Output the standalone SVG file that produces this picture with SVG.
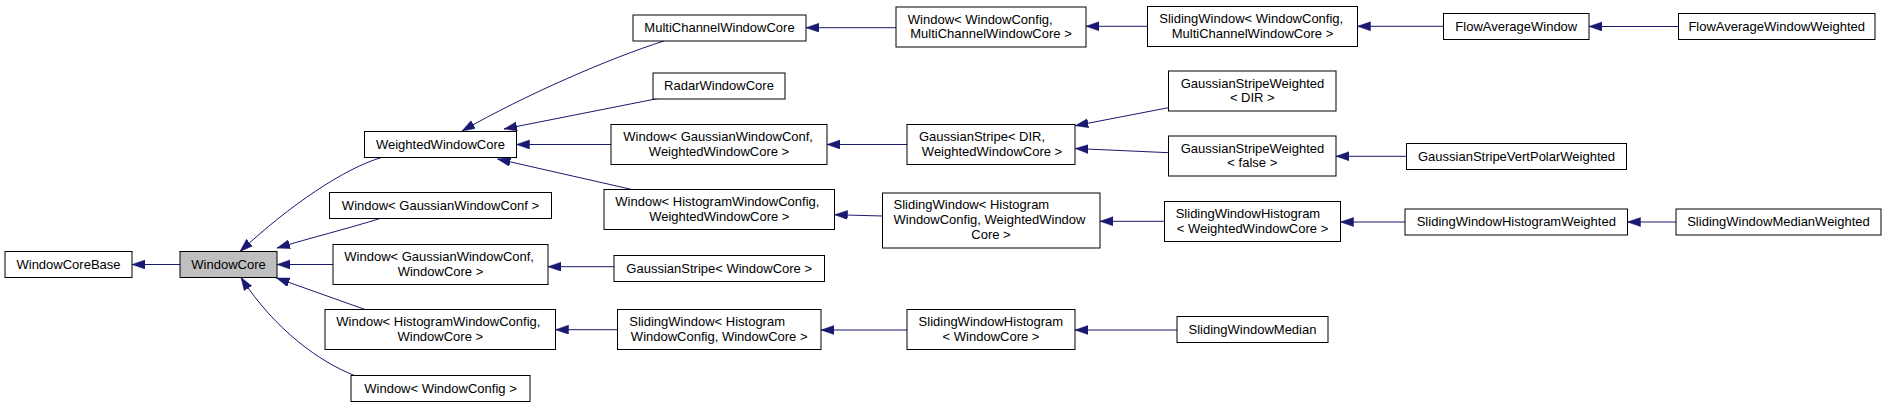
<svg xmlns="http://www.w3.org/2000/svg" width="1887" height="407" viewBox="0 0 1887 407">
<style>
.node rect{fill:#ffffff;stroke:#000000;stroke-width:1}
.node.cur rect{fill:#bfbfbf}
text{font-family:"Liberation Sans",Arial,Helvetica,sans-serif;font-size:13px;fill:#000000}
.c{text-anchor:middle}
.s{text-anchor:start}
.edges path{fill:none;stroke:#191970;stroke-width:1;marker-end:url(#arr)}
</style>
<defs>
<marker id="arr" markerUnits="userSpaceOnUse" markerWidth="14" markerHeight="10" refX="13" refY="4.5" orient="auto">
<path d="M0,0 L13,4.5 L0,9 z" fill="#191970" stroke="#191970" stroke-width="0.5"/>
</marker>
</defs>
<rect x="0" y="0" width="1887" height="407" fill="#ffffff"/>
<g class="edges">
<path d="M180,264.5 L132,264.5"/>
<path d="M381.5,157.5 C345,168 290,205 240,251.5"/>
<path d="M380,218.5 C350,228 310,238 277,248"/>
<path d="M333,264.5 L277,264.5"/>
<path d="M365,309.5 L276.5,278"/>
<path d="M354.5,375.5 C320,362 275,330 241,277.5"/>
<path d="M664,41 C610,58 525,95 462,131"/>
<path d="M658,98.5 L504,129"/>
<path d="M611,144.5 L516.5,144.5"/>
<path d="M632,189.5 L497.5,159"/>
<path d="M896,27.7 L806,27.7"/>
<path d="M1147.5,26.3 L1086,26.3"/>
<path d="M1443.5,26.3 L1357.5,26.3"/>
<path d="M1678.5,26.5 L1589,26.5"/>
<path d="M907,144.5 L827,144.5"/>
<path d="M1168.5,107.7 L1075.3,125.7"/>
<path d="M1168.5,152.7 L1075.3,148.5"/>
<path d="M1406.5,156.3 L1336,156.3"/>
<path d="M882.5,216 L834.6,214.7"/>
<path d="M1164.5,221.3 L1100,221.3"/>
<path d="M1405,222 L1340.5,222"/>
<path d="M1676,222 L1627.5,222"/>
<path d="M614,266.7 L548,266.7"/>
<path d="M617.5,329.7 L555.5,329.7"/>
<path d="M907,330 L821,330"/>
<path d="M1177,330 L1075,330"/>
</g>
<g id="n_WindowCoreBase" class="node"><rect x="5" y="251.5" width="127" height="26"/><text class="c" x="68.5" y="268.5">WindowCoreBase</text></g>
<g id="n_WindowCore" class="node cur"><rect x="180" y="251.5" width="97" height="26"/><text class="c" x="228.5" y="268.5">WindowCore</text></g>
<g id="n_WeightedWindowCore" class="node"><rect x="364.5" y="131.5" width="152" height="26"/><text class="c" x="440.5" y="148.5">WeightedWindowCore</text></g>
<g id="n_WindowGaussian" class="node"><rect x="329.5" y="192.5" width="222" height="26"/><text class="c" x="440.5" y="209.5">Window&lt; GaussianWindowConf &gt;</text></g>
<g id="n_WindowGaussianCore" class="node"><rect x="333" y="244.5" width="215" height="40"/><text class="s" x="344.3" y="261">Window&lt; GaussianWindowConf,</text><text class="c" x="440.5" y="275.6">WindowCore &gt;</text></g>
<g id="n_WindowHistogramCore" class="node"><rect x="325" y="309.5" width="230.5" height="40"/><text class="s" x="336.3" y="326">Window&lt; HistogramWindowConfig,</text><text class="c" x="440.3" y="340.6">WindowCore &gt;</text></g>
<g id="n_WindowWindowConfig" class="node"><rect x="351" y="375.5" width="179" height="26"/><text class="c" x="440.5" y="392.5">Window&lt; WindowConfig &gt;</text></g>
<g id="n_MultiChannelWindowCore" class="node"><rect x="633" y="15" width="173" height="26"/><text class="c" x="719.5" y="32">MultiChannelWindowCore</text></g>
<g id="n_RadarWindowCore" class="node"><rect x="653" y="73" width="132" height="26"/><text class="c" x="719" y="90">RadarWindowCore</text></g>
<g id="n_WindowGaussianWeighted" class="node"><rect x="611" y="124.5" width="216" height="40"/><text class="s" x="623.3" y="141">Window&lt; GaussianWindowConf,</text><text class="c" x="719" y="155.6">WeightedWindowCore &gt;</text></g>
<g id="n_WindowHistogramWeighted" class="node"><rect x="604" y="189.5" width="230.5" height="40"/><text class="s" x="615.3" y="206">Window&lt; HistogramWindowConfig,</text><text class="c" x="719.3" y="220.6">WeightedWindowCore &gt;</text></g>
<g id="n_GaussianStripeCore" class="node"><rect x="614" y="255.5" width="210.5" height="26"/><text class="c" x="719.2" y="272.5">GaussianStripe&lt; WindowCore &gt;</text></g>
<g id="n_SlidingWindowHistogramCore" class="node"><rect x="617.5" y="309.5" width="203.5" height="40"/><text class="s" x="629.3" y="326">SlidingWindow&lt; Histogram</text><text class="c" x="719.2" y="340.6">WindowConfig, WindowCore &gt;</text></g>
<g id="n_WindowConfigMulti" class="node"><rect x="896" y="7" width="190" height="40"/><text class="s" x="907.8" y="23.5">Window&lt; WindowConfig,</text><text class="c" x="991" y="38.1">MultiChannelWindowCore &gt;</text></g>
<g id="n_GaussianStripeDIR" class="node"><rect x="907" y="124.5" width="168" height="40"/><text class="s" x="919" y="141">GaussianStripe&lt; DIR,</text><text class="c" x="992" y="155.6">WeightedWindowCore &gt;</text></g>
<g id="n_SlidingWindowHistogramWeighted3" class="node"><rect x="882.5" y="193" width="217.5" height="55"/><text class="s" x="893.5" y="209.3">SlidingWindow&lt; Histogram</text><text class="s" x="893.5" y="223.9">WindowConfig, WeightedWindow</text><text class="c" x="991" y="238.5">Core &gt;</text></g>
<g id="n_SWHistogramCore" class="node"><rect x="907" y="309.5" width="168" height="40"/><text class="s" x="918.6" y="326">SlidingWindowHistogram</text><text class="c" x="991" y="340.6">&lt; WindowCore &gt;</text></g>
<g id="n_SlidingWindowMulti" class="node"><rect x="1147.5" y="6.5" width="210" height="40"/><text class="s" x="1159.3" y="23">SlidingWindow&lt; WindowConfig,</text><text class="c" x="1252.5" y="37.6">MultiChannelWindowCore &gt;</text></g>
<g id="n_GSWDIR" class="node"><rect x="1168.5" y="71" width="167.5" height="40"/><text class="s" x="1180.7" y="87.7">GaussianStripeWeighted</text><text class="c" x="1252.3" y="102.3">&lt; DIR &gt;</text></g>
<g id="n_GSWfalse" class="node"><rect x="1168.5" y="136" width="167.5" height="40"/><text class="s" x="1180.7" y="152.7">GaussianStripeWeighted</text><text class="c" x="1252.3" y="167.3">&lt; false &gt;</text></g>
<g id="n_SWHWeightedCore" class="node"><rect x="1164.5" y="201.5" width="176" height="40"/><text class="s" x="1175.7" y="218.2">SlidingWindowHistogram</text><text class="c" x="1252.5" y="232.8">&lt; WeightedWindowCore &gt;</text></g>
<g id="n_SlidingWindowMedian" class="node"><rect x="1177" y="316.5" width="151" height="26"/><text class="c" x="1252.5" y="333.5">SlidingWindowMedian</text></g>
<g id="n_FlowAverageWindow" class="node"><rect x="1443.5" y="13.5" width="145.5" height="26"/><text class="c" x="1516.3" y="30.5">FlowAverageWindow</text></g>
<g id="n_GaussianStripeVertPolarWeighted" class="node"><rect x="1406.5" y="143.5" width="220" height="26"/><text class="c" x="1516.5" y="160.5">GaussianStripeVertPolarWeighted</text></g>
<g id="n_SlidingWindowHistogramWeighted" class="node"><rect x="1405" y="209" width="222.5" height="26"/><text class="c" x="1516.3" y="226">SlidingWindowHistogramWeighted</text></g>
<g id="n_FlowAverageWindowWeighted" class="node"><rect x="1678.5" y="13.5" width="196.5" height="26"/><text class="c" x="1776.7" y="30.5">FlowAverageWindowWeighted</text></g>
<g id="n_SlidingWindowMedianWeighted" class="node"><rect x="1676" y="209" width="205" height="26"/><text class="c" x="1778.5" y="226">SlidingWindowMedianWeighted</text></g>
</svg>
